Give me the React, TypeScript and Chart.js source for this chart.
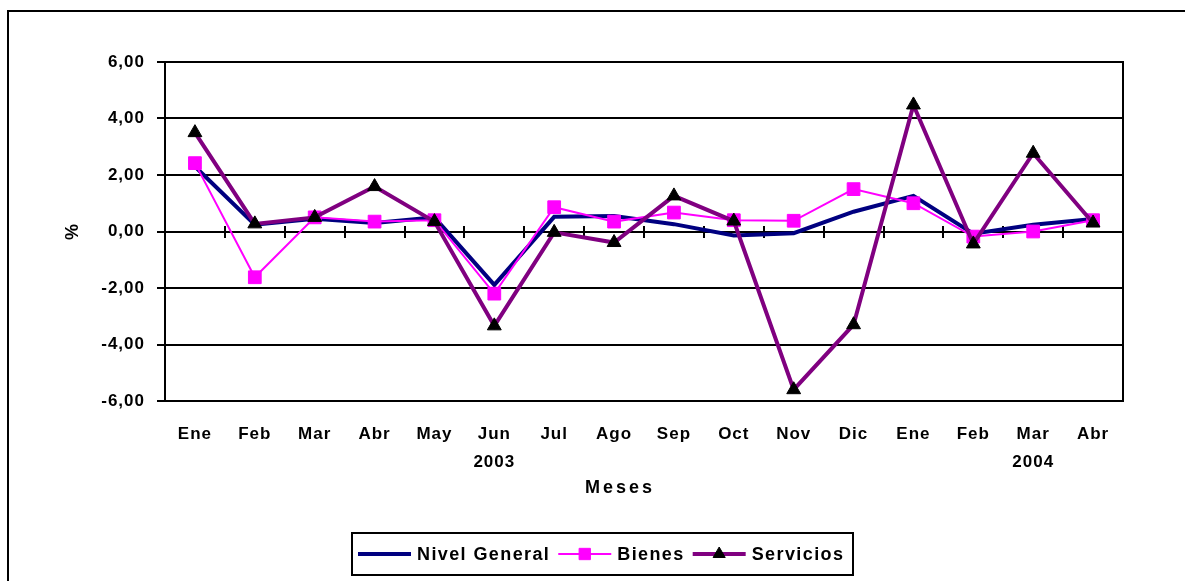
import React, { useEffect, useRef } from "react";
import { Chart, registerables } from "chart.js";
import { drawPoint } from "chart.js/helpers";

Chart.register(...registerables);

// ---- Data ----
const MONTHS = ["Ene", "Feb", "Mar", "Abr", "May", "Jun", "Jul", "Ago", "Sep", "Oct", "Nov", "Dic", "Ene", "Feb", "Mar", "Abr"];
const YEARS = ["", "", "", "", "", "2003", "", "", "", "", "", "", "", "", "2004", ""];
const NIVEL_GENERAL = [2.3, 0.24, 0.45, 0.3, 0.5, -1.89, 0.52, 0.55, 0.26, -0.14, -0.06, 0.7, 1.26, -0.08, 0.24, 0.44];
const BIENES = [2.42, -1.62, 0.5, 0.35, 0.4, -2.2, 0.86, 0.35, 0.67, 0.4, 0.38, 1.5, 1.0, -0.18, 0.0, 0.4];
const SERVICIOS = [3.5, 0.27, 0.5, 1.59, 0.35, -3.34, -0.03, -0.39, 1.26, 0.37, -5.6, -3.3, 4.48, -0.44, 2.77, 0.3];
const Y_MIN = -6;
const Y_MAX = 6;
const Y_STEP = 2;
const X_TITLE = "Meses";
const Y_TITLE = "%";

const FONT = '"Liberation Sans", Arial, Helvetica, sans-serif';

export default function App() {
  const ref = useRef<HTMLCanvasElement>(null);

  useEffect(() => {
    const canvas = ref.current;
    if (!canvas) return;

    const labels = MONTHS.map((m, i) => (YEARS[i] ? [m, YEARS[i]] : m));

    const spacingPlugin = {
      id: "spacing",
      beforeUpdate(chart: any) {
        chart.ctx.letterSpacing = "1px";
      },
      beforeDraw(chart: any) {
        chart.ctx.letterSpacing = "1px";
      },
    };

    const framePlugin = {
      id: "frame",
      beforeDatasetsDraw(chart: any) {
        const { ctx, chartArea: a, scales } = chart;
        const xs = scales.x;
        const ys = scales.y;
        const y0 = Math.round(ys.getPixelForValue(0));
        ctx.save();
        ctx.strokeStyle = "#000";
        ctx.lineWidth = 2;
        ctx.strokeRect(Math.round(a.left), Math.round(a.top), Math.round(a.right - a.left), Math.round(a.bottom - a.top));
        ctx.beginPath();
        for (let i = 1; i < MONTHS.length; i++) {
          const px = Math.round((xs.getPixelForValue(i - 1) + xs.getPixelForValue(i)) / 2);
          ctx.moveTo(px, y0 - 6);
          ctx.lineTo(px, y0 + 6);
        }
        ctx.stroke();
        ctx.restore();
      },
    };

    const legendPlugin = {
      id: "boxLegend",
      afterDraw(chart: any) {
        const { ctx, chartArea: a } = chart;
        ctx.save();
        // x-axis title
        ctx.font = `bold 18px ${FONT}`;
        ctx.letterSpacing = "3px";
        ctx.fillStyle = "#000";
        ctx.textAlign = "center";
        ctx.textBaseline = "middle";
        ctx.fillText(X_TITLE, (a.left + a.right) / 2 - 24, 488);

        // legend box
        const box = { left: 352, top: 533, right: 853, bottom: 575 };
        ctx.lineWidth = 2;
        ctx.strokeStyle = "#000";
        ctx.strokeRect(box.left, box.top, box.right - box.left, box.bottom - box.top);
        ctx.letterSpacing = "1.4px";
        ctx.textAlign = "left";
        const cy = (box.top + box.bottom) / 2;
        let x = box.left + 6;
        chart.data.datasets.forEach((ds: any) => {
          ctx.strokeStyle = ds.borderColor;
          ctx.lineWidth = ds.borderWidth;
          ctx.beginPath();
          ctx.moveTo(x, cy);
          ctx.lineTo(x + 53, cy);
          ctx.stroke();
          if (ds.pointRadius > 0) {
            ctx.fillStyle = ds.pointBackgroundColor;
            ctx.strokeStyle = ds.pointBorderColor;
            ctx.lineWidth = ds.pointBorderWidth;
            drawPoint(ctx, { pointStyle: ds.pointStyle, radius: ds.pointRadius - 1, rotation: 0, borderWidth: ds.pointBorderWidth } as any, x + 26.5, cy);
          }
          ctx.fillStyle = "#000";
          ctx.fillText(ds.label, x + 59, cy + 1);
          x += 59 + ctx.measureText(ds.label).width + 8;
        });
        ctx.restore();
      },
    };

    const chart = new Chart(canvas, {
      type: "line",
      data: {
        labels,
        datasets: [
          {
            label: "Nivel General",
            data: NIVEL_GENERAL,
            borderColor: "#000080",
            backgroundColor: "#000080",
            borderWidth: 4,
            pointRadius: 0,
            pointHoverRadius: 0,
            tension: 0,
            order: 3,
          },
          {
            label: "Bienes",
            data: BIENES,
            borderColor: "#FF00FF",
            backgroundColor: "#FF00FF",
            borderWidth: 2,
            pointStyle: "rect",
            pointRadius: 9,
            pointBackgroundColor: "#FF00FF",
            pointBorderColor: "#FF00FF",
            pointBorderWidth: 1,
            tension: 0,
            order: 2,
          },
          {
            label: "Servicios",
            data: SERVICIOS,
            borderColor: "#800080",
            backgroundColor: "#800080",
            borderWidth: 4,
            pointStyle: "triangle",
            pointRadius: 8,
            pointBackgroundColor: "#000",
            pointBorderColor: "#000",
            pointBorderWidth: 1,
            tension: 0,
            order: 1,
          },
        ],
      },
      options: {
        animation: false,
        responsive: false,
        maintainAspectRatio: false,
        layout: { padding: { left: 0, top: 62, right: 62, bottom: 0 } },
        plugins: {
          legend: { display: false },
          tooltip: { enabled: false },
          title: { display: false },
        },
        scales: {
          x: {
            type: "category",
            offset: true,
            grid: { display: false },
            border: { display: false },
            ticks: {
              color: "#000",
              font: { family: FONT, size: 17, weight: "bold", lineHeight: 28 / 17 },
              padding: 11,
              maxRotation: 0,
              minRotation: 0,
              autoSkip: false,
            },
            afterFit(scale: any) {
              scale.height = 180;
            },
          },
          y: {
            min: Y_MIN,
            max: Y_MAX,
            border: { display: false },
            grid: { color: "#000", lineWidth: 2, drawTicks: true, tickLength: 8 },
            ticks: {
              stepSize: Y_STEP,
              color: "#000",
              padding: 12,
              font: { family: FONT, size: 17, weight: "bold" },
              callback: (v: any) => Number(v).toFixed(2).replace(".", ","),
            },
            title: {
              display: true,
              text: Y_TITLE,
              color: "#000",
              font: { family: FONT, size: 18, weight: "bold", lineHeight: 1.2 },
              padding: { top: 62, bottom: 0 },
            },
            afterFit(scale: any) {
              scale.width = 165;
            },
          },
        },
      },
      plugins: [spacingPlugin, framePlugin, legendPlugin],
    } as any);

    return () => chart.destroy();
  }, []);

  return (
    <div style={{ position: "absolute", left: 0, top: 0, width: 1185, height: 581, overflow: "hidden", background: "#fff" }}>
      <div
        style={{
          position: "absolute",
          left: 7,
          top: 10,
          width: 1300,
          height: 800,
          border: "2px solid #000",
        }}
      />
      <canvas ref={ref} width={1185} height={581} style={{ position: "absolute", left: 0, top: 0, display: "block" }} />
    </div>
  );
}
